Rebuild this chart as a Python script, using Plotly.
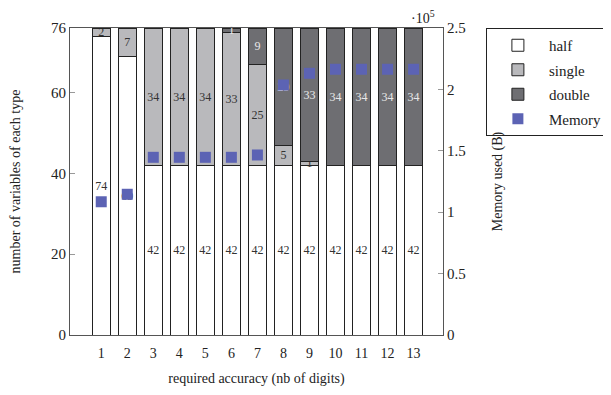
import plotly.graph_objects as go

accuracy = [1, 2, 3, 4, 5, 6, 7, 8, 9, 10, 11, 12, 13]
half = [74, 69, 42, 42, 42, 42, 42, 42, 42, 42, 42, 42, 42]
single = [2, 7, 34, 34, 34, 33, 25, 5, 1, 0, 0, 0, 0]
double = [0, 0, 0, 0, 0, 1, 9, 29, 33, 34, 34, 34, 34]
memory_1e5 = [1.085, 1.146, 1.447, 1.447, 1.447, 1.447, 1.466, 2.036, 2.131, 2.164, 2.164, 2.164, 2.164]

FONT = "Liberation Serif"

def labels(vals):
    return [str(v) if v > 0 else "" for v in vals]

fig = go.Figure()
bar_common = dict(width=0.7, textposition="inside", insidetextanchor="middle",
                  textangle=0, cliponaxis=False)
fig.add_trace(go.Bar(x=accuracy, y=half, name="half", text=labels(half), legendgroup="a",
                     marker=dict(color="white", line=dict(color="#222", width=1)),
                     textfont=dict(family=FONT, size=12, color="#333"), **bar_common))
fig.add_trace(go.Bar(x=accuracy, y=single, name="single", text=labels(single), legendgroup="b",
                     marker=dict(color="#b9b9bc", line=dict(color="#222", width=1)),
                     textfont=dict(family=FONT, size=12, color="#333"), **bar_common))
fig.add_trace(go.Bar(x=accuracy, y=double, name="double", text=labels(double), legendgroup="c",
                     marker=dict(color="#6e6e72", line=dict(color="#222", width=1)),
                     textfont=dict(family=FONT, size=12, color="#e8e8e8"), **bar_common))
fig.add_trace(go.Scatter(x=accuracy, y=memory_1e5, name="Memory", mode="markers",
                         yaxis="y2", legendgroup="d",
                         marker=dict(symbol="square", size=11, color="#5c63b4")))

fig.update_layout(
    width=603, height=379,
    margin=dict(l=62, r=168, t=20, b=52, autoexpand=False),
    barmode="stack",
    plot_bgcolor="white", paper_bgcolor="white",
    font=dict(family=FONT, size=14, color="#222"),
    uniformtext=dict(minsize=12, mode="show"),
    showlegend=True,
    legend=dict(x=1.115, y=1.0, xanchor="left", yanchor="top",
                bordercolor="#222", borderwidth=1, traceorder="grouped",
                tracegroupgap=2,
                font=dict(family=FONT, size=15), itemwidth=52),
    xaxis=dict(range=[-0.2, 14.13], tickvals=accuracy, ticks="",
               showline=True, linecolor="#555", linewidth=1, mirror=True,
               showgrid=False, zeroline=False, ticklabelstandoff=5,
               automargin=False,
               tickfont=dict(family=FONT, size=14),
               title=dict(text="required accuracy (nb of digits)",
                          font=dict(family=FONT, size=14), standoff=14)),
    yaxis=dict(range=[0, 76], tickvals=[0, 20, 40, 60, 76], ticks="inside",
               ticklen=5, tickcolor="#999", showline=True, linecolor="#555",
               linewidth=1, showgrid=False, zeroline=False, automargin=False,
               tickfont=dict(family=FONT, size=15),
               title=dict(text="number of variables of each type",
                          font=dict(family=FONT, size=14), standoff=27)),
    yaxis2=dict(range=[0, 2.5], overlaying="y", side="right",
                tickvals=[0, 0.5, 1, 1.5, 2, 2.5],
                ticktext=["0", "0.5", "1", "1.5", "2", "2.5"],
                ticks="inside", ticklen=5, tickcolor="#999",
                showline=True, linecolor="#555", linewidth=1,
                showgrid=False, zeroline=False, automargin=False,
                tickfont=dict(family=FONT, size=15),
                title=dict(text="Memory used (B)",
                           font=dict(family=FONT, size=14), standoff=27)),
)
fig.add_annotation(x=1.0, y=1.0, xref="paper", yref="paper", xanchor="right",
                   yanchor="bottom", xshift=-6, yshift=0, showarrow=False,
                   text="·10<sup>5</sup>", font=dict(family=FONT, size=14))

fig.write_html("out.html")
